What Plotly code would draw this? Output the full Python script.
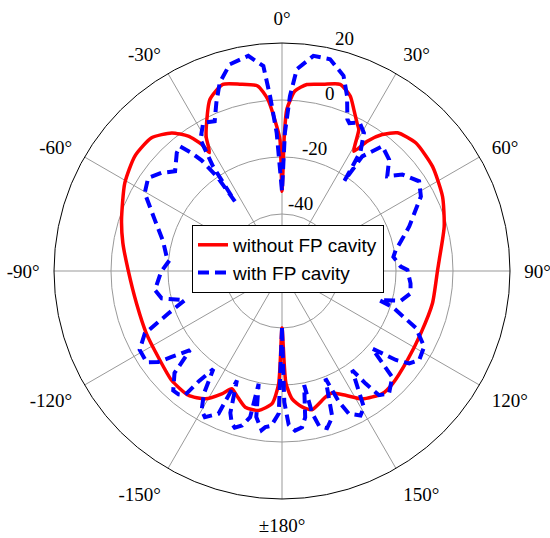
import math
import plotly.graph_objects as go

# Radiation patterns (dB) versus angle (deg)
theta_without = [-180, -178.3, -175.7, -170.5, -164.9, -160, -156.9, -153.9, -149, -143,
                 -134.7, -124.8, -114.8, -102.6, -89.6, -80, -72.3, -60.8, -52, -44.4,
                 -38.6, -34.8, -32.4, -31.5, -29.5, -27.6, -22.8, -17.6, -12.7, -7.5,
                 -4.7, -2.1, -0.9, 0, 1, 1.7, 4.1, 7.6, 12.5, 17.3,
                 21.3, 24, 26.8, 28.5, 31, 33.3, 36.3, 39.9, 46.2, 55.2,
                 65.1, 74.7, 86, 89.6, 102, 114, 125.5, 135.6, 140.7, 147.9,
                 152.9, 157.7, 161, 167.8, 171.6, 175.5, 178, 180]
gain_without = [-40, -20.4, -13.3, -10.4, -10.5, -13.5, -15.1, -12, -7.7, -5.4,
                -5.5, -7.1, -7.6, -7.7, -6, -3.3, -0.9, 3.2, 5.5, 5.4,
                2, -2.4, -7.4, -11.3, -6, -2.7, 5.3, 8.7, 7.2, 5.5,
                0.4, -9.2, -13.9, -32, -12, -3.3, 3.3, 6, 7.1, 8.6,
                5.9, 2, -1.7, -3.5, -11, -5.5, -0.6, 3.2, 5, 4.3,
                2.1, -1, -4.7, -5.4, -6, -6.6, -6, -4.6, -4.4, -7,
                -11, -13.7, -13.2, -10.2, -11.8, -15, -20.6, -40]

theta_with = [-180, -178.7, -176, -173.9, -172.7, -170, -168.3, -167.7, -165.5, -163.2,
              -161.8, -160, -157.6, -156, -152.2, -150, -147.5, -145, -143, -142,
              -140, -137.7, -133.5, -130.7, -127.9, -126.3, -124, -119, -114.5, -110.5,
              -106.7, -102.8, -98.5, -90.3, -84.4, -82.9, -76, -68.1, -60.4, -55.2,
              -50.8, -47, -41.7, -39.3, -37.4, -36, -34.5, -34.1, -33.4, -31.8,
              -28, -24.2, -21.3, -18.3, -14.2, -8.9, -5.2, -3.9, -2.2, 0,
              1.2, 2.6, 4.2, 8.3, 12.8, 17.5, 20.4, 23.3, 24.5, 27.6,
              30.7, 33.3, 34.3, 34.7, 35, 38.8, 43.9, 48, 51.3, 56.8,
              61.8, 70.7, 76, 79.5, 82.8, 87.9, 89.5, 95.5, 99.9, 104,
              106.7, 108, 113, 118, 123, 126, 128, 130.7, 133.9, 138.9,
              142, 143.4, 144.7, 149, 151.5, 154.9, 156.5, 158, 161, 164,
              166.5, 168, 169, 171, 172.7, 175.3, 177.5, 179, 180]
gain_with = [-40, -10, -5.5, -4.9, -3.7, -8, -19.6, -7.5, -4, -2.6,
             -3.6, -7, -18.5, -5.2, -2, -3.6, -9, -18, -11.7, -4.7,
             -3.5, -3.3, -8, -17.4, -10.9, -6.1, -2.7, -2.9, -7.1, -17.4,
             -24.4, -16.7, -14.9, -17.6, -20.4, -19.2, -17, -11.9, -4.6, -2.8,
             -5.5, -8.7, -4.5, -3.5, -7.9, -12, -20, -30.5, -16, -5.7,
             -1.1, -2.4, 3.4, 9.6, 14.8, 16.4, 12.2, 1.5, -11.5, -32,
             -11.5, 1.4, 11, 16.3, 16.2, 11.8, 5.5, -2, -3, -1.2,
             -3.7, -9.8, -18.4, -21.5, -10.9, -3.8, -5.8, -10.3, -5.9, -2.5,
             -4.7, -12.7, -17, -19.4, -20.6, -18.3, -16, -14.7, -14.2, -17,
             -24.4, -19.3, -9, -3.5, -2.6, -4.8, -9.3, -18.2, -6.3, -2.9,
             -4.7, -10.8, -17.4, -4.2, -2.3, -4.7, -10, -19.3, -5.8, -2.6,
             -4, -9, -19.2, -8, -4.7, -3.8, -6, -14, -40]

# Axis ticks
angle_ticks = [0, 30, 60, 90, 120, 150, 180, 210, 240, 270, 300, 330]
angle_labels = ["0°", "30°", "60°", "90°", "120°", "150°", "±180°",
                "-150°", "-120°", "-90°", "-60°", "-30°"]
radial_ticks = [-40, -20, 0, 20]
radial_labels = ["-40", "-20", "0", "20"]
radial_min, radial_max = -60, 20

serif = "Liberation Serif"
sans = "Liberation Sans"

fig = go.Figure()
fig.add_trace(go.Scatterpolar(
    r=gain_without, theta=theta_without, mode="lines",
    name="without FP cavity",
    line=dict(color="#ff0000", width=3.5, shape="spline", smoothing=0.6),
))
fig.add_trace(go.Scatterpolar(
    r=gain_with, theta=theta_with, mode="lines",
    name="with FP cavity",
    line=dict(color="#0000ff", width=4, dash="11px,6px"),
))

# Radial tick labels sit just outside each ring, along the 15° spoke.
# The polar area fills the (square) plot area, so paper coords map linearly.
label_angle = math.radians(15)
label_offset = 4.6
annotations = []
for v, txt in zip(radial_ticks, radial_labels):
    frac = (v + label_offset - radial_min) / (radial_max - radial_min)
    annotations.append(dict(
        x=0.5 + 0.5 * frac * math.sin(label_angle),
        y=0.5 + 0.5 * frac * math.cos(label_angle),
        xref="paper", yref="paper", xanchor="center", yanchor="middle",
        text=txt, showarrow=False,
        font=dict(family=serif, size=19, color="black"),
    ))

fig.update_layout(
    width=550, height=538,
    margin=dict(l=54, r=40, t=43, b=39),
    paper_bgcolor="white",
    annotations=annotations,
    polar=dict(
        bgcolor="white",
        domain=dict(x=[0, 1], y=[0, 1]),
        angularaxis=dict(
            rotation=90, direction="clockwise",
            tickmode="array", tickvals=angle_ticks, ticktext=angle_labels,
            tickfont=dict(family=serif, size=19, color="black"),
            showline=True, linecolor="black", linewidth=1,
            showgrid=True, gridcolor="#999999", gridwidth=0.8,
            ticks="outside", ticklen=10, tickcolor="rgba(0,0,0,0)",
        ),
        radialaxis=dict(
            range=[radial_min, radial_max],
            tickmode="array", tickvals=radial_ticks,
            showticklabels=False, ticks="",
            showline=False,
            showgrid=True, gridcolor="#999999", gridwidth=0.8,
        ),
    ),
    legend=dict(
        x=0.3026, y=0.601, xanchor="left", yanchor="top",
        bgcolor="white", bordercolor="black", borderwidth=1,
        font=dict(family=sans, size=19, color="black"),
    ),
    showlegend=True,
)

fig.write_html("out.html")
